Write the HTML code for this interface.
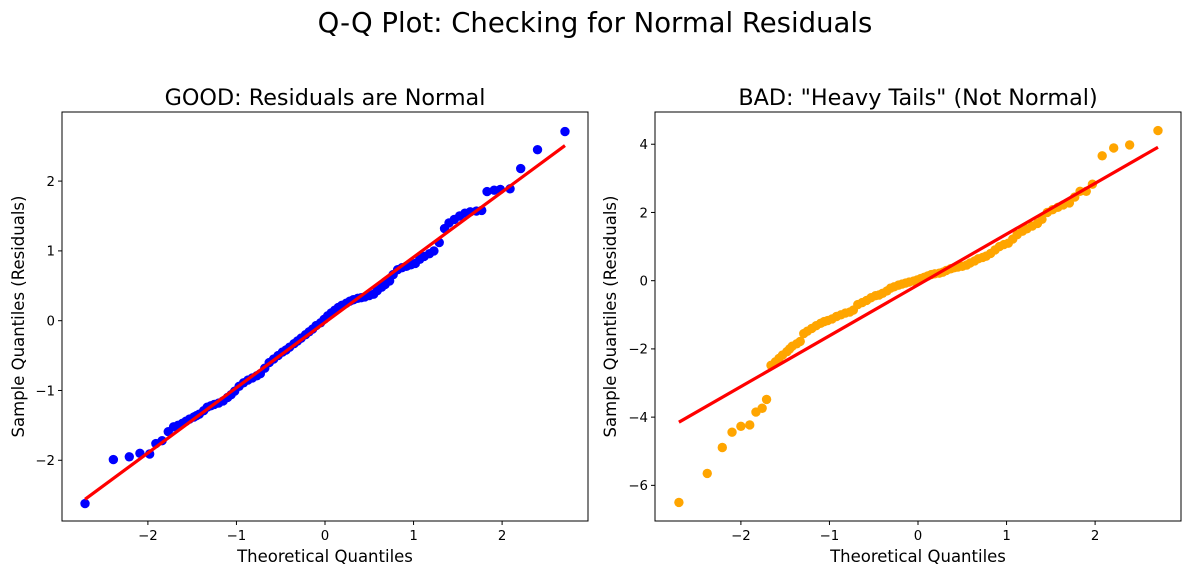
<!DOCTYPE html>
<html><head><meta charset="utf-8"><style>
html,body{margin:0;padding:0;background:#fff;}
svg{display:block;font-family:"DejaVu Sans","Liberation Sans",sans-serif;}
</style></head><body>
<svg id="fig" width="1189" height="575" viewBox="0 0 1189 575">
<text x="595" y="32" text-anchor="middle" font-size="27.5" fill="#000">Q-Q Plot: Checking for Normal Residuals</text>
</svg>
<script>
// ---- Left panel data (GOOD) ----
const goodX = [-2.71,-2.39,-2.21,-2.09,-1.98,-1.91,-1.84,-1.77,-1.71,
-1.66,-1.61,-1.57,-1.53,-1.48,-1.45,-1.42,-1.37,-1.33,-1.29,-1.25,-1.20,-1.15,-1.10,-1.06,-1.02,-0.97,-0.92,-0.87,-0.82,-0.77,-0.73,-0.68,-0.63,-0.58,-0.53,-0.48,-0.44,-0.40,-0.35,-0.31,-0.27,-0.22,-0.18,-0.14,-0.10,-0.05,-0.01,0.03,0.07,0.11,0.15,0.19,0.24,0.28,0.32,0.37,0.41,0.45,0.50,0.55,0.59,0.64,0.68,0.73,0.77,0.82,0.87,0.92,0.97,1.02,1.07,1.12,1.18,1.23,1.29,1.35,1.40,1.46,1.52,1.58,1.64,1.71,1.77,
1.83,1.91,1.98,2.09,2.21,2.40,2.71];
const goodY = [-2.62,-1.99,-1.95,-1.90,-1.91,-1.76,-1.72,-1.59,-1.52,
-1.50,-1.47,-1.44,-1.41,-1.38,-1.36,-1.34,-1.29,-1.24,-1.22,-1.20,-1.18,-1.15,-1.10,-1.06,-1.01,-0.94,-0.89,-0.85,-0.82,-0.79,-0.76,-0.68,-0.60,-0.55,-0.50,-0.45,-0.42,-0.38,-0.33,-0.29,-0.25,-0.20,-0.16,-0.12,-0.07,-0.03,0.02,0.07,0.11,0.15,0.19,0.22,0.25,0.28,0.30,0.32,0.33,0.34,0.36,0.38,0.43,0.48,0.52,0.57,0.66,0.73,0.76,0.78,0.80,0.82,0.88,0.92,0.96,1.00,1.12,1.32,1.40,1.45,1.50,1.54,1.56,1.57,1.58,
1.85,1.87,1.88,1.89,2.18,2.45,2.71];
const goodFit = [0.935, -0.025]; // slope, intercept
// ---- Right panel data (BAD) ----
const badX = [-2.70,-2.38,-2.21,-2.10,-2.00,-1.90,-1.83,-1.76,-1.71,
-1.66,-1.61,-1.57,-1.53,-1.48,-1.45,-1.42,-1.37,-1.33,-1.29,-1.25,-1.20,-1.15,-1.10,-1.06,-1.02,-0.97,-0.92,-0.87,-0.82,-0.77,-0.73,-0.68,-0.63,-0.58,-0.53,-0.48,-0.44,-0.40,-0.35,-0.31,-0.27,-0.22,-0.18,-0.14,-0.10,-0.05,-0.01,0.03,0.07,0.11,0.15,0.19,0.24,0.28,0.32,0.37,0.41,0.45,0.50,0.55,0.59,0.64,0.68,0.73,0.77,0.82,0.87,0.92,0.97,1.02,1.07,1.12,1.18,1.23,1.29,1.35,1.40,1.46,1.52,1.58,1.64,1.71,1.77,1.83,1.90,1.97,
2.08,2.21,2.39,2.71];
const badY = [-6.50,-5.65,-4.89,-4.44,-4.27,-4.23,-3.85,-3.74,-3.48,
-2.48,-2.38,-2.28,-2.18,-2.08,-2.00,-1.92,-1.85,-1.78,-1.55,-1.48,-1.40,-1.32,-1.25,-1.20,-1.17,-1.12,-1.05,-1.00,-0.95,-0.92,-0.86,-0.70,-0.64,-0.58,-0.50,-0.44,-0.42,-0.37,-0.30,-0.22,-0.18,-0.13,-0.10,-0.07,-0.04,-0.01,0.02,0.06,0.10,0.14,0.18,0.20,0.22,0.25,0.30,0.35,0.38,0.40,0.42,0.46,0.52,0.58,0.64,0.68,0.72,0.80,0.90,1.00,1.06,1.10,1.22,1.35,1.45,1.52,1.60,1.68,1.80,2.00,2.08,2.15,2.22,2.28,2.45,2.62,2.62,2.83,
3.66,3.89,3.98,4.40];
const badFit = [1.49, -0.125];
const xTicks = [-2,-1,0,1,2];
const goodYTicks = [-2,-1,0,1,2];
const badYTicks = [-6,-4,-2,0,2,4];

const NS = 'http://www.w3.org/2000/svg';
const svg = document.getElementById('fig');
function mk(tag, attrs, parent){const e=document.createElementNS(NS,tag);for(const k in attrs)e.setAttribute(k,attrs[k]);(parent||svg).appendChild(e);return e;}

function panel(cfg){
  const {left,right,top,bottom,xmin,xmax,ymin,ymax,xs,ys,fit,yTicks,color,title,key}=cfg;
  const sx=v=>left+(v-xmin)/(xmax-xmin)*(right-left);
  const sy=v=>bottom-(v-ymin)/(ymax-ymin)*(bottom-top);
  const g=mk('g',{});
  
  
  const t=mk('text',{x:(left+right)/2,y:top-7,'text-anchor':'middle','font-size':22.3,fill:'#000'},g);
  t.textContent=title;
  
  
  for(let i=0;i<xs.length;i++){
    const c=mk('circle',{cx:sx(xs[i]),cy:sy(ys[i]),r:4.7,fill:color},g);
    
    
  }
  const x0=xs[0], x1=xs[xs.length-1];
  const ln=mk('line',{x1:sx(x0),y1:sy(fit[0]*x0+fit[1]),x2:sx(x1),y2:sy(fit[0]*x1+fit[1]),stroke:'#ff0000','stroke-width':3.2},g);
  
  
  const fr=mk('rect',{x:left,y:top,width:right-left,height:bottom-top,fill:'none',stroke:'#000','stroke-width':1},g);
  
  
  xTicks.forEach(v=>{
    const X=sx(v);
    mk('line',{x1:X,y1:bottom,x2:X,y2:bottom+4,stroke:'#000'},g);
    const tl=mk('text',{x:X,y:bottom+19,'text-anchor':'middle','font-size':13.3,fill:'#000'},g);
    tl.textContent=(v<0?'\u2212':'')+Math.abs(v);
    
    
  });
  yTicks.forEach(v=>{
    const Y=sy(v);
    mk('line',{x1:left-4,y1:Y,x2:left,y2:Y,stroke:'#000'},g);
    const tl=mk('text',{x:left-7,y:Y+4.8,'text-anchor':'end','font-size':13.3,fill:'#000'},g);
    tl.textContent=(v<0?'\u2212':'')+Math.abs(v);
    
    
  });
  const xl=mk('text',{x:(left+right)/2,y:bottom+41,'text-anchor':'middle','font-size':16.5,fill:'#000'},g);
  xl.textContent='Theoretical Quantiles';
  
  
  const yc=(top+bottom)/2, yx=cfg.ylabelX;
  const yl=mk('text',{x:yx,y:yc,'text-anchor':'middle','font-size':16.5,fill:'#000',transform:`rotate(-90 ${yx} ${yc})`},g);
  yl.textContent='Sample Quantiles (Residuals)';
  
  
}

panel({key:'good',left:62,right:588,top:112,bottom:521,xmin:-2.97,xmax:2.97,ymin:-2.87,ymax:2.99,
  xs:goodX,ys:goodY,fit:goodFit,yTicks:goodYTicks,color:'#0000ff',title:'GOOD: Residuals are Normal',ylabelX:24});
panel({key:'bad',left:655,right:1181,top:112,bottom:521,xmin:-2.97,xmax:2.97,ymin:-7.045,ymax:4.945,
  xs:badX,ys:badY,fit:badFit,yTicks:badYTicks,color:'#ffa500',title:'BAD: "Heavy Tails" (Not Normal)',ylabelX:616});
</script>
</body></html>
